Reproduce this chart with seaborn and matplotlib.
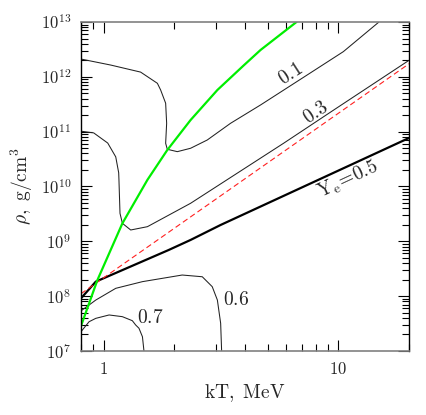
import math
import matplotlib
matplotlib.use("Agg")
import matplotlib.pyplot as plt
import matplotlib.ticker as mticker
import seaborn as sns

# =====================================
# Data (kT in MeV, rho in g/cm^3)
# =====================================

# Ye = 0.1 contour
kt_01 = [0.80, 1.071, 1.436, 1.693, 1.748, 1.836, 1.854, 1.836, 1.866, 2.059,
         2.345, 2.762, 3.47, 4.66, 7.36, 10.5, 14.85]
rho_01 = [2.11e12, 1.64e12, 1.22e12, 7.62e11, 5.75e11, 3.30e11, 1.42e11, 6.14e10,
          4.77e10, 4.32e10, 4.98e10, 7.05e10, 1.42e11, 3.07e11, 1.08e12, 2.88e12, 9.9e12]

# Ye = 0.3 contour
kt_03 = [0.80, 0.906, 1.04, 1.125, 1.158, 1.161, 1.173, 1.201, 1.303, 1.535,
         2.345, 5.85, 9.55, 20.0]
rho_03 = [1.02e11, 9.5e10, 6.2e10, 3.47e10, 1.78e10, 1.32e10, 3.24e9, 2.13e9,
          1.61e9, 1.85e9, 4.94e9, 6.17e10, 2.48e11, 2.0e12]

# Ye = 0.6 contour
kt_06 = [0.80, 0.866, 0.925, 1.125, 1.462, 2.16, 2.63, 2.90, 3.05, 3.15, 3.18]
rho_06 = [5.4e7, 6.9e7, 8.5e7, 1.39e8, 1.84e8, 2.43e8, 2.26e8, 1.49e8, 8.5e7,
          3.2e7, 1.0e7]

# Ye = 0.7 contour
kt_07 = [0.80, 0.866, 0.925, 1.054, 1.20, 1.324, 1.368, 1.413, 1.462, 1.484]
rho_07 = [2.25e7, 3.42e7, 3.94e7, 4.54e7, 4.23e7, 3.57e7, 2.98e7, 2.6e7,
          1.82e7, 1.0e7]

# Ye = 0.5 line (thick)
kt_05 = [0.80, 0.925, 1.891, 2.345, 3.15, 20.0]
rho_05 = [9.14e7, 1.84e8, 6.95e8, 1.06e9, 1.99e9, 7.67e10]

# red dashed reference line
kt_red = [0.80, 20.0]
rho_red = [1.11e8, 1.73e12]

# green curve
kt_green = [0.80, 0.940, 1.201, 1.535, 1.866, 2.345, 3.05, 3.94, 4.66, 6.63]
rho_green = [2.86e7, 1.97e8, 2.13e9, 1.32e10, 4.63e10, 1.63e11, 5.75e11,
             1.6e12, 3.09e12, 1.0e13]

# =====================================
# Style
# =====================================

sns.set_style("ticks")
plt.rcParams["font.family"] = ["DejaVu Serif"]
plt.rcParams["mathtext.fontset"] = "cm"

fig = plt.figure(figsize=(4.27, 4.15), dpi=100)
ax = fig.add_axes([81 / 427, 1 - 351 / 415, 328 / 427, 329 / 415])

ax.set_xscale("log")
ax.set_yscale("log")

# =====================================
# Curves
# =====================================

thin = dict(color="#222222", linewidth=0.75, estimator=None, sort=False)

sns.lineplot(x=kt_01, y=rho_01, ax=ax, **thin)
sns.lineplot(x=kt_03, y=rho_03, ax=ax, **thin)
sns.lineplot(x=kt_06, y=rho_06, ax=ax, **thin)
sns.lineplot(x=kt_07, y=rho_07, ax=ax, **thin)

sns.lineplot(x=kt_05, y=rho_05, ax=ax, color="black", linewidth=1.6,
             estimator=None, sort=False)
sns.lineplot(x=kt_red, y=rho_red, ax=ax, color="#ff2020", linewidth=0.8,
             estimator=None, sort=False)
ax.lines[-1].set_dashes([5, 3])
sns.lineplot(x=kt_green, y=rho_green, ax=ax, color="#00ee00", linewidth=1.6,
             estimator=None, sort=False)

# =====================================
# Labels on curves
# =====================================

fs = 14
ax.text(6.25, 1.12e12, r"$0.1$", fontsize=fs, rotation=33,
        ha="center", va="center")
ax.text(8.06, 2.24e11, r"$0.3$", fontsize=fs, rotation=34,
        ha="center", va="center")
ax.text(11.0, 1.32e10, r"$\mathrm{Y_e\!=\!0.5}$", fontsize=fs, rotation=25,
        ha="center", va="center")
ax.text(1.585, 4.08e7, r"$0.7$", fontsize=fs, ha="center", va="center")
ax.text(3.22, 8.35e7, r"$0.6$", fontsize=fs, ha="left", va="center")

# =====================================
# Axes
# =====================================

ax.set_xlim(0.8, 20)
ax.set_ylim(1e7, 1e13)

ax.xaxis.set_major_locator(mticker.FixedLocator([1, 10]))
ax.xaxis.set_major_formatter(mticker.FuncFormatter(lambda v, p: r"$%d$" % round(v)))
ax.xaxis.set_minor_locator(mticker.LogLocator(base=10, subs=range(2, 10)))
ax.xaxis.set_minor_formatter(mticker.NullFormatter())

ax.yaxis.set_major_locator(mticker.LogLocator(base=10, numticks=10))
ax.yaxis.set_major_formatter(
    mticker.FuncFormatter(lambda v, p: r"$10^{%d}$" % round(math.log10(v))))
ax.yaxis.set_minor_locator(mticker.LogLocator(base=10, subs=range(2, 10), numticks=20))
ax.yaxis.set_minor_formatter(mticker.NullFormatter())

ax.tick_params(which="both", direction="in", top=True, right=True,
               color="black", width=0.8)
ax.tick_params(which="major", length=8, labelsize=12, pad=7)
ax.tick_params(which="minor", length=5)

for side in ["left", "right"]:
    ax.spines[side].set_color("black")
    ax.spines[side].set_linewidth(1.0)
for side in ["top", "bottom"]:
    ax.spines[side].set_color("0.5")
    ax.spines[side].set_linewidth(1.2)

ax.set_xlabel(r"$\mathrm{kT,\ MeV}$", fontsize=14, labelpad=3)
ax.set_ylabel(r"$\rho,\ \mathrm{g/cm^3}$", fontsize=14, labelpad=4)

fig.savefig("out.png", dpi=100)
